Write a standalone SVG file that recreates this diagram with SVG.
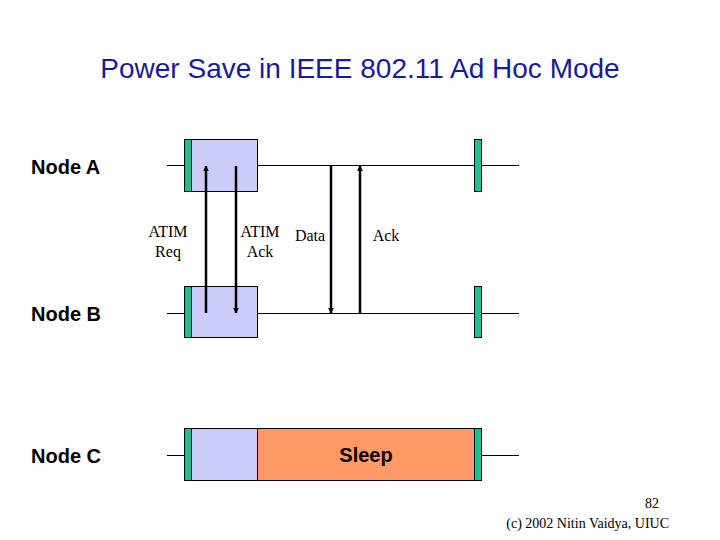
<svg xmlns="http://www.w3.org/2000/svg" width="720" height="540" viewBox="0 0 720 540">
<defs>
<marker id="ah" viewBox="0 0 10 10" refX="9" refY="5" markerWidth="6" markerHeight="6" orient="auto" markerUnits="userSpaceOnUse">
<path d="M0,0 L10,5 L0,10 z" fill="#000"/>
</marker>
<style>
.title{font-family:"Liberation Sans",Arial,sans-serif;font-size:28px;fill:#1a1a9c}
.node{font-family:"Liberation Sans",Arial,sans-serif;font-size:20px;font-weight:bold;fill:#000}
.lbl{font-family:"Liberation Serif","Times New Roman",serif;font-size:16px;fill:#000}
.ft{font-family:"Liberation Serif","Times New Roman",serif;font-size:14px;fill:#000}
.tl{stroke:#000;stroke-width:1;fill:none}
.bar{fill:#1fbf8f;stroke:#000;stroke-width:1}
.win{fill:#ccccf8;stroke:#000;stroke-width:1}
.sleep{fill:#ff9966;stroke:#000;stroke-width:1}
.arr{stroke:#000;stroke-width:2.5;fill:none}
</style>
</defs>
<rect width="720" height="540" fill="#fff"/>
<text class="title" x="360" y="78" text-anchor="middle">Power Save in IEEE 802.11 Ad Hoc Mode</text>

<g id="nodeA">
<text class="node" x="31" y="174">Node A</text>
<line class="tl" x1="167" y1="165.5" x2="519" y2="165.5"/>
<rect class="win" x="188" y="139.5" width="69.5" height="52"/>
<rect class="bar" x="184.5" y="139.5" width="7" height="52"/>
<rect class="bar" x="474.5" y="139.5" width="7" height="52"/>
</g>

<g id="nodeB">
<text class="node" x="31" y="321">Node B</text>
<line class="tl" x1="167" y1="313.5" x2="519" y2="313.5"/>
<rect class="win" x="188" y="286.5" width="69.5" height="51"/>
<rect class="bar" x="184.5" y="286.5" width="7" height="51"/>
<rect class="bar" x="474.5" y="286.5" width="7" height="51"/>
</g>

<g id="nodeC">
<text class="node" x="31" y="463">Node C</text>
<line class="tl" x1="167" y1="455.5" x2="519" y2="455.5"/>
<rect class="win" x="188" y="428.5" width="69.5" height="52"/>
<rect class="sleep" x="257.5" y="428.5" width="217" height="52"/>
<rect class="bar" x="184.5" y="428.5" width="7" height="52"/>
<rect class="bar" x="474.5" y="428.5" width="7" height="52"/>
<text class="node" x="366" y="462" text-anchor="middle">Sleep</text>
</g>

<g id="connectors">
<line class="arr" x1="206" y1="313" x2="206" y2="166" marker-end="url(#ah)"/>
<line class="arr" x1="236" y1="166" x2="236" y2="313" marker-end="url(#ah)"/>
<line class="arr" x1="331" y1="166" x2="331" y2="313" marker-end="url(#ah)"/>
<line class="arr" x1="360" y1="313" x2="360" y2="166" marker-end="url(#ah)"/>
<text class="lbl" x="168" y="237" text-anchor="middle">ATIM</text>
<text class="lbl" x="168" y="257" text-anchor="middle">Req</text>
<text class="lbl" x="260" y="237" text-anchor="middle">ATIM</text>
<text class="lbl" x="260" y="257" text-anchor="middle">Ack</text>
<text class="lbl" x="310" y="241" text-anchor="middle">Data</text>
<text class="lbl" x="386" y="241" text-anchor="middle">Ack</text>
</g>

<text class="ft" x="659" y="508" text-anchor="end">82</text>
<text class="ft" x="669" y="528" text-anchor="end">(c) 2002 Nitin Vaidya, UIUC</text>
</svg>
